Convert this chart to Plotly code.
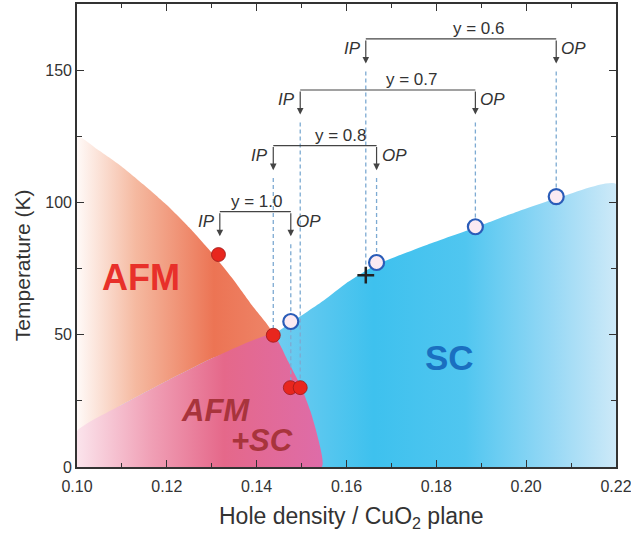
import plotly.graph_objects as go

# ---- phase boundaries (hole density p, temperature K) ----
# upper edge of the AFM+SC coexistence wedge, from p = 0.10 to the triple point
mix_p = [0.100, 0.110, 0.120, 0.130, 0.1436]
mix_T = [13.5, 23.5, 32.5, 41.0, 50.0]

# Neel line T_N(p), from p = 0.10 down to where AFM vanishes
afm_p = [0.100, 0.105, 0.110, 0.115, 0.120, 0.125, 0.130, 0.1345, 0.1390, 0.1436,
         0.1470, 0.1500, 0.1520, 0.1535, 0.1545]
afm_T = [125.0, 119.5, 113.5, 106.5, 99.0, 90.5, 81.0, 71.5, 61.0, 50.0,
         40.0, 30.0, 21.0, 12.0, 0.0]

# superconducting Tc(p), from the triple point to p = 0.22
sc_p = [0.1436, 0.1476, 0.155, 0.160, 0.1667, 0.178, 0.1887, 0.198, 0.2067, 0.220]
sc_T = [50.0, 54.5, 63.0, 69.5, 76.5, 84.0, 90.5, 96.5, 101.5, 107.0]

# ---- measured points ----
afm_pts_p = [0.1315, 0.1437, 0.1475, 0.1497]
afm_pts_T = [80.3, 49.8, 30.0, 30.0]
sc_pts_p = [0.1476, 0.1667, 0.1887, 0.2067]
sc_pts_T = [55.0, 77.3, 90.8, 102.2]
cross_p = [0.1643]
cross_T = [72.5]

# ---- inner plane (IP) / outer plane (OP) pairs for each composition y ----
y_labels = ["y = 1.0", "y = 0.8", "y = 0.7", "y = 0.6"]
ip_p = [0.1318, 0.1437, 0.1497, 0.1643]
op_p = [0.1476, 0.1667, 0.1887, 0.2067]
bar_T = [96.5, 121.5, 142.5, 161.8]
label_p = [0.1401, 0.1588, 0.1746, 0.1894]
# where each guide line ends (None = no guide line)
ip_end_T = [None, 49.8, 30.0, 72.5]
op_end_T = [30.0, 77.3, 90.8, 102.2]

x_ticks = [0.10, 0.12, 0.14, 0.16, 0.18, 0.20, 0.22]
y_ticks = [0, 50, 100, 150]

ARROW = 9.3  # arrow length in K

INK = "#333333"
FONT = "Liberation Sans, Arial, sans-serif"

fig = go.Figure()

# superconducting dome (blue)
fig.add_trace(go.Scatter(
    x=[0.10] + mix_p + sc_p[1:] + [0.22, 0.10],
    y=[0.0] + mix_T + sc_T[1:] + [0.0, 0.0],
    mode="lines", line=dict(width=0, shape="spline", smoothing=0.5),
    fill="toself",
    fillgradient=dict(type="horizontal", start=0.10, stop=0.22,
                      colorscale=[[0.0, "rgb(150,215,245)"], [0.37, "rgb(112,204,240)"],
                                  [0.55, "rgb(62,193,238)"], [0.72, "rgb(80,198,240)"],
                                  [0.88, "rgb(150,216,245)"], [1.0, "rgb(205,233,248)"]]),
    hoverinfo="skip", showlegend=False))

# antiferromagnetic region (orange)
fig.add_trace(go.Scatter(
    x=afm_p[:10] + mix_p[::-1][1:] + [afm_p[0]],
    y=afm_T[:10] + mix_T[::-1][1:] + [afm_T[0]],
    mode="lines", line=dict(width=0, shape="spline", smoothing=0.5),
    fill="toself",
    fillgradient=dict(type="horizontal", start=0.10, stop=0.1436,
                      colorscale=[[0.0, "rgb(255,250,248)"], [0.3, "rgb(245,185,160)"],
                                  [0.7, "rgb(236,116,84)"], [1.0, "rgb(238,132,104)"]]),
    hoverinfo="skip", showlegend=False))

# coexistence region (pink)
fig.add_trace(go.Scatter(
    x=[0.10] + mix_p + afm_p[10:] + [0.10],
    y=[0.0] + mix_T + afm_T[10:] + [0.0],
    mode="lines", line=dict(width=0, shape="spline", smoothing=0.5),
    fill="toself",
    fillgradient=dict(type="horizontal", start=0.10, stop=0.1545,
                      colorscale=[[0.0, "rgb(251,228,236)"], [0.3, "rgb(240,160,182)"],
                                  [0.6, "rgb(229,104,138)"], [1.0, "rgb(222,108,168)"]]),
    hoverinfo="skip", showlegend=False))

# dashed guide lines from the arrows down to the points
gx, gy = [], []
for xs, ends in ((ip_p, ip_end_T), (op_p, op_end_T)):
    for p, tb, te in zip(xs, bar_T, ends):
        if te is None:
            continue
        gx += [p, p, None]
        gy += [tb - ARROW - 3.0, te, None]
fig.add_trace(go.Scatter(x=gx, y=gy, mode="lines",
                         line=dict(color="rgb(125,170,210)", width=1.3, dash="4px,3px"),
                         hoverinfo="skip", showlegend=False))

# bracket bars
bx, by = [], []
for a, b, t in zip(ip_p, op_p, bar_T):
    bx += [a, b, None]
    by += [t, t, None]
fig.add_trace(go.Scatter(x=bx, y=by, mode="lines", line=dict(color="#444444", width=1.2),
                         hoverinfo="skip", showlegend=False))

# measured points
fig.add_trace(go.Scatter(x=afm_pts_p, y=afm_pts_T, mode="markers",
                         marker=dict(size=14, color="#E8261E", line=dict(color="#9A1A1A", width=0.8)),
                         showlegend=False))
fig.add_trace(go.Scatter(x=sc_pts_p, y=sc_pts_T, mode="markers",
                         marker=dict(size=15, color="#FBEAF2", line=dict(color="#2A5CB8", width=2.2)),
                         showlegend=False))
fig.add_trace(go.Scatter(x=cross_p, y=cross_T, mode="markers",
                         marker=dict(size=12, symbol="cross-thin", line=dict(color="#222222", width=2.5)),
                         showlegend=False))

ann = []
for lab, a, b, t, lp in zip(y_labels, ip_p, op_p, bar_T, label_p):
    for p in (a, b):
        ann.append(dict(x=p, y=t - ARROW, ax=p, ay=t, xref="x", yref="y", axref="x", ayref="y",
                        text="", showarrow=True, arrowhead=2, arrowsize=1.1, arrowwidth=1.2,
                        arrowcolor="#444444", standoff=0, startstandoff=0))
    ann.append(dict(x=a, y=t, xref="x", yref="y", text="<i>IP</i>", showarrow=False,
                    xanchor="right", yanchor="middle", xshift=-3, yshift=-10,
                    font=dict(family=FONT, size=17, color=INK)))
    ann.append(dict(x=b, y=t, xref="x", yref="y", text="<i>OP</i>", showarrow=False,
                    xanchor="left", yanchor="middle", xshift=3, yshift=-10,
                    font=dict(family=FONT, size=17, color=INK)))
    ann.append(dict(x=lp, y=t, xref="x", yref="y", text=lab, showarrow=False,
                    xanchor="center", yanchor="bottom", yshift=-1,
                    font=dict(family=FONT, size=17, color=INK)))

# phase labels
ann.append(dict(x=0.1142, y=71.7, xref="x", yref="y", text="<b>AFM</b>", showarrow=False,
                font=dict(family=FONT, size=36, color="#E8302A")))
ann.append(dict(x=0.1308, y=21.5, xref="x", yref="y", text="<b><i>AFM</i></b>", showarrow=False,
                font=dict(family=FONT, size=31, color="#A8343C")))
ann.append(dict(x=0.1413, y=10.2, xref="x", yref="y", text="<b><i>+SC</i></b>", showarrow=False,
                font=dict(family=FONT, size=31, color="#A8343C")))
ann.append(dict(x=0.1829, y=41.5, xref="x", yref="y", text="<b>SC</b>", showarrow=False,
                font=dict(family=FONT, size=35, color="#1A6FC0")))

# axis titles
ann.append(dict(x=-0.102, y=0.436, xref="paper", yref="paper", text="Temperature (K)",
                xanchor="center", yanchor="middle",
                showarrow=False, textangle=-90, font=dict(family=FONT, size=21, color=INK)))
ann.append(dict(x=0.51, y=-0.11, xref="paper", yref="paper",
                text="Hole density / CuO<sub>2</sub> plane", xanchor="center", yanchor="middle",
                showarrow=False, font=dict(family=FONT, size=23, color=INK)))

axis_common = dict(showgrid=False, zeroline=False, showline=True, linecolor=INK, linewidth=1.6,
                   mirror="ticks", ticks="inside", ticklen=7, tickwidth=1.3, tickcolor=INK,
                   ticklabeloverflow="allow", automargin=False,
                   tickfont=dict(family=FONT, size=16, color=INK))

fig.update_layout(
    width=631, height=535,
    margin=dict(l=77, r=15, t=4, b=68, autoexpand=False),
    plot_bgcolor="white", paper_bgcolor="white",
    xaxis=dict(range=[0.10, 0.22001], tickvals=x_ticks, tickformat=".2f", ticklabelstandoff=4,
               minor=dict(dtick=0.01, tick0=0.10, ticks="inside", ticklen=4, tickwidth=1.2, tickcolor=INK),
               **axis_common),
    yaxis=dict(range=[0, 175], tickvals=y_ticks,
               minor=dict(dtick=25, tick0=0, ticks="inside", ticklen=5, tickwidth=1.2, tickcolor=INK),
               **axis_common),
    annotations=ann,
)

fig.write_html("out.html")
